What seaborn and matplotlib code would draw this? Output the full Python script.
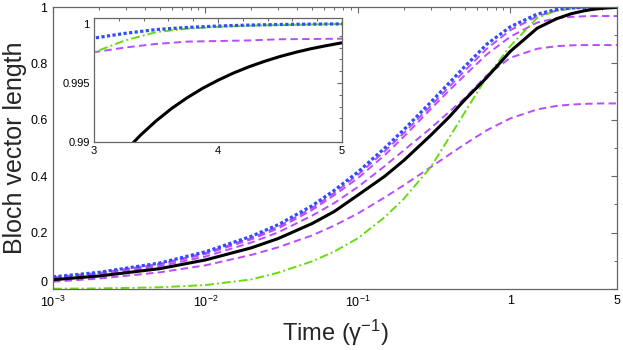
import numpy as np
import pandas as pd
import matplotlib
matplotlib.use("Agg")
import matplotlib.pyplot as plt
import seaborn as sns
from matplotlib.ticker import MultipleLocator

# time grid (units of 1/gamma)
t = [0.001, 0.002, 0.005, 0.01, 0.02, 0.03, 0.05, 0.07, 0.1, 0.15, 0.2, 0.3, 0.4,
     0.5, 0.7, 1.0, 1.5, 2.0, 2.5, 3.0, 3.25, 3.5, 3.75, 4.0, 4.25, 4.5, 4.75, 5.0]

# Bloch vector length for each case
black = [0.033, 0.046, 0.072, 0.103, 0.146, 0.179, 0.232, 0.275, 0.333, 0.400, 0.456, 0.545, 0.612,
         0.670, 0.750, 0.843, 0.925, 0.958, 0.976, 0.9858, 0.9892, 0.9918, 0.9937, 0.9952, 0.9964, 0.9972, 0.9979, 0.9984]
blue = [0.043, 0.059, 0.092, 0.132, 0.187, 0.228, 0.295, 0.350, 0.415, 0.500, 0.565, 0.662, 0.733,
        0.788, 0.868, 0.930, 0.975, 0.991, 0.9965, 0.9988, 0.9992, 0.99952, 0.9997, 0.99982, 0.9999, 0.99995, 0.99998, 1.0]
green = [0.001, 0.002, 0.006, 0.014, 0.034, 0.058, 0.098, 0.133, 0.180, 0.255, 0.320, 0.432, 0.540,
         0.625, 0.752, 0.862, 0.962, 0.987, 0.9945, 0.9976, 0.9986, 0.9993, 0.9996, 0.99975, 0.99985, 0.9999, 0.99995, 1.0]
purple_0 = [0.041, 0.057, 0.089, 0.128, 0.181, 0.221, 0.287, 0.341, 0.405, 0.489, 0.553, 0.649, 0.719,
            0.773, 0.852, 0.918, 0.967, 0.987, 0.9945, 0.9976, 0.9980, 0.9983, 0.9985, 0.99855, 0.9986, 0.9987, 0.99872, 0.99875]
purple_1 = [0.040, 0.055, 0.087, 0.124, 0.176, 0.215, 0.280, 0.333, 0.393, 0.475, 0.540, 0.638, 0.706,
            0.757, 0.832, 0.895, 0.945, 0.960, 0.965, 0.967, 0.9675, 0.968, 0.968, 0.968, 0.968, 0.968, 0.968, 0.968]
purple_2 = [0.037, 0.051, 0.081, 0.115, 0.165, 0.201, 0.260, 0.305, 0.362, 0.436, 0.492, 0.570, 0.630,
            0.676, 0.758, 0.820, 0.852, 0.861, 0.864, 0.865, 0.865, 0.865, 0.865, 0.865, 0.865, 0.865, 0.865, 0.865]
purple_3 = [0.026, 0.037, 0.059, 0.084, 0.121, 0.148, 0.190, 0.225, 0.268, 0.325, 0.368, 0.432, 0.478,
            0.513, 0.563, 0.605, 0.637, 0.649, 0.654, 0.656, 0.657, 0.657, 0.658, 0.658, 0.658, 0.658, 0.658, 0.658]

# finer reading of the black curve for the inset (t = 3..5)
t_inset = [3.0, 3.125, 3.25, 3.375, 3.5, 3.625, 3.75, 3.875, 4.0,
           4.125, 4.25, 4.375, 4.5, 4.625, 4.75, 4.875, 5.0]
black_inset = [0.98582, 0.98763, 0.98921, 0.99058, 0.99178, 0.99283, 0.99374, 0.99454, 0.99523,
               0.99584, 0.99637, 0.99683, 0.99724, 0.99759, 0.99790, 0.99816, 0.99840]

xtick_vals = [1e-3, 1e-2, 1e-1, 1, 5]
xtick_labels = ['$10^{-3}$', '$10^{-2}$', '$10^{-1}$', '1', '5']

sns.set_style('white')
plt.rcParams['font.family'] = ['Liberation Sans', 'DejaVu Sans']
plt.rcParams['mathtext.fontset'] = 'custom'
plt.rcParams['mathtext.rm'] = 'Liberation Sans'
plt.rcParams['mathtext.it'] = 'Liberation Sans:italic'

PURPLE = '#b84dff'
BLUE = '#2f4cff'
GREEN = '#66dd10'
dash = (0, (3.8, 2.2))
dashdot = (0, (4.5, 1.6, 1, 1.6))
dots = (0, (1, 0.75))

styles = [
    (purple_3, PURPLE, dash, 1.4),
    (purple_2, PURPLE, dash, 1.4),
    (purple_1, PURPLE, dash, 1.4),
    (purple_0, PURPLE, dash, 1.4),
    (green, GREEN, dashdot, 1.4),
    (blue, BLUE, dots, 2.3),
]

fig = plt.figure(figsize=(6.23, 3.5), dpi=100)
ax = fig.add_axes([53 / 623, 61 / 350, 564 / 623, 282 / 350])

for vals, col, ls, lw in styles:
    sns.lineplot(x=t, y=vals, ax=ax, color=col, linestyle=ls, lw=lw, sort=False)
sns.lineplot(x=t, y=black, ax=ax, color='black', lw=2.2, sort=False)

ax.set_xscale('log')
ax.set_xlim(1e-3, 5)
ax.set_ylim(0, 1)
ax.set_xticks(xtick_vals)
ax.set_xticklabels(xtick_labels)
ax.set_yticks([0, 0.2, 0.4, 0.6, 0.8, 1.0])
ax.set_yticklabels(['0', '0.2', '0.4', '0.6', '0.8', '1'])
ax.get_yticklabels()[0].set_verticalalignment('bottom')
ax.yaxis.set_minor_locator(MultipleLocator(0.1))
ax.tick_params(which='both', direction='in', top=True, right=True, colors='#666666',
               labelcolor='black', labelsize=9)
ax.tick_params(which='major', length=4, width=0.8, pad=4)
ax.tick_params(which='minor', length=2.2, width=0.7)
for s in ax.spines.values():
    s.set_color('#666666')
    s.set_linewidth(0.9)
ax.set_xlabel('Time (γ$^{\\mathrm{-1}}$)', fontsize=17, labelpad=6)
ax.set_ylabel('Bloch vector length', fontsize=18, labelpad=2)

# inset: zoom on late times
axin = fig.add_axes([94 / 623, (350 - 142) / 350, 248 / 623, 124 / 350])
axin.set_facecolor('white')
for vals, col, ls, lw in styles:
    sns.lineplot(x=t, y=vals, ax=axin, color=col, linestyle=ls, lw=lw, sort=False)
sns.lineplot(x=t_inset, y=black_inset, ax=axin, color='black', lw=2.2, sort=False)
axin.set_xlim(3, 5)
axin.set_ylim(0.99, 1.0005)
axin.set_xticks([3, 4, 5])
axin.set_xticklabels(['3', '4', '5'])
axin.set_yticks([0.99, 0.995, 1.0])
axin.set_yticklabels(['0.99', '0.995', '1'])
axin.xaxis.set_minor_locator(MultipleLocator(0.2))
axin.yaxis.set_minor_locator(MultipleLocator(0.001))
axin.tick_params(which='both', direction='in', top=True, right=True, colors='#666666',
                 labelcolor='black', labelsize=8)
axin.tick_params(which='major', length=3.5, width=0.8, pad=3)
axin.tick_params(which='minor', length=2, width=0.7)
axin.set_xlabel('')
axin.set_ylabel('')
for s in axin.spines.values():
    s.set_color('#666666')
    s.set_linewidth(0.9)

fig.savefig('out.png', dpi=100)
